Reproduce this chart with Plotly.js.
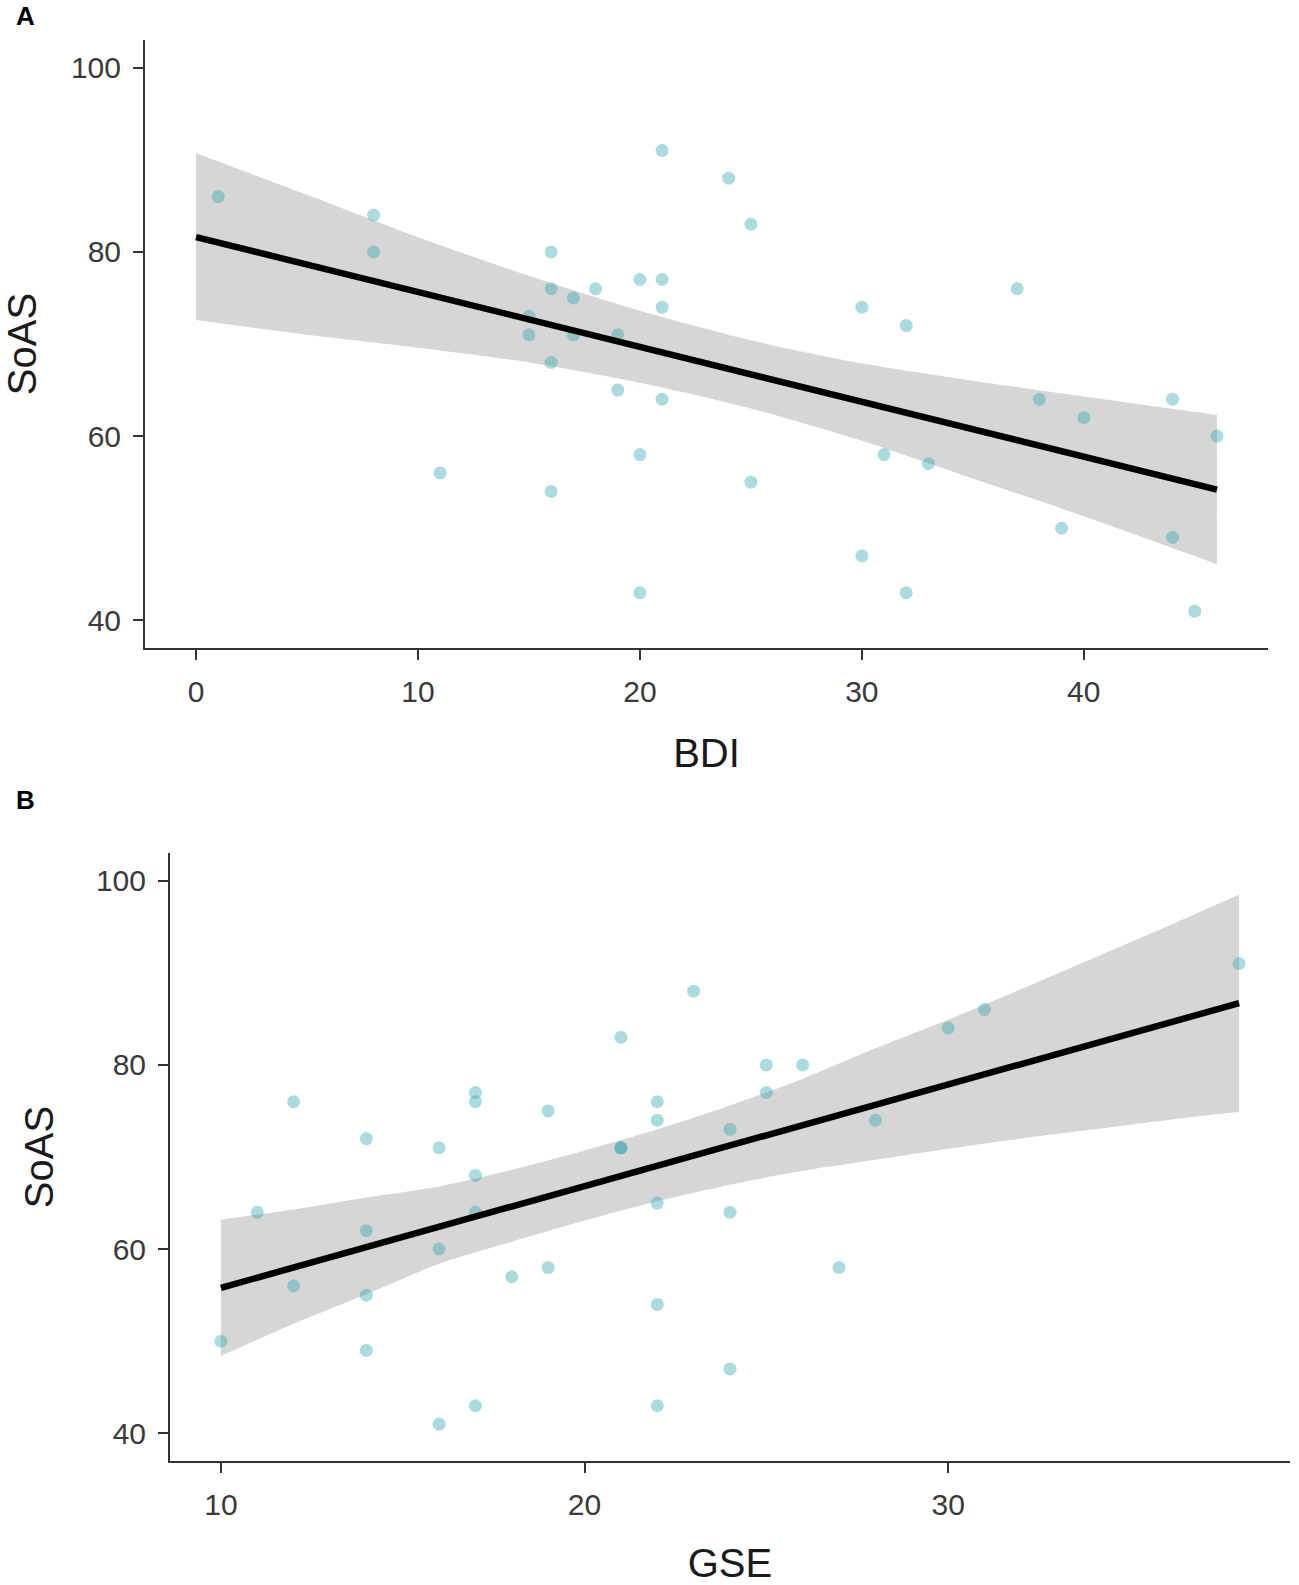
<!DOCTYPE html>
<html>
<head>
<meta charset="utf-8">
<script src="https://cdn.plot.ly/plotly-3.0.1.min.js"></script>
<style>
  html, body { margin: 0; padding: 0; background: #fff; }
  #chart { width: 1299px; height: 1585px; }
</style>
</head>
<body>
<div id="chart"></div>
<script>
// Panel A: SoAS vs BDI
var bdi    = [1, 8, 8, 11, 15, 15, 16, 16, 16, 16, 17, 17, 18, 19, 19, 20, 20, 20, 21, 21, 21, 21, 24, 25, 25, 30, 30, 31, 32, 32, 33, 37, 38, 39, 40, 44, 44, 45, 46];
var soasA  = [86, 84, 80, 56, 73, 71, 80, 76, 68, 54, 75, 71, 76, 71, 65, 77, 58, 43, 91, 77, 74, 64, 88, 83, 55, 74, 47, 58, 72, 43, 57, 76, 64, 50, 62, 64, 49, 41, 60];
// fitted line and confidence band
var fitAx  = [0, 46];
var fitAy  = [81.6, 54.2];
var bandAx = [0, 5, 10, 15, 20, 25, 30, 35, 40, 46];
var bandAhi = [90.7, 86.2, 81.6, 77.4, 73.6, 70.4, 67.9, 66.0, 64.3, 62.3];
var bandAlo = [72.6, 71.0, 69.6, 68.0, 65.8, 63.0, 59.5, 55.4, 51.3, 46.1];

// Panel B: SoAS vs GSE
var gse    = [10, 11, 12, 12, 14, 14, 14, 14, 16, 16, 16, 17, 17, 17, 17, 17, 18, 19, 19, 21, 21, 21, 22, 22, 22, 22, 22, 23, 24, 24, 24, 25, 25, 26, 27, 28, 30, 31, 38];
var soasB  = [50, 64, 76, 56, 72, 62, 55, 49, 71, 60, 41, 77, 76, 68, 64, 43, 57, 75, 58, 83, 71, 71, 76, 74, 65, 54, 43, 88, 73, 64, 47, 80, 77, 80, 58, 74, 84, 86, 91];
var fitBx  = [10, 38];
var fitBy  = [55.8, 86.7];
var bandBx = [10, 12, 14, 16, 18, 20, 22, 24, 26, 28, 30, 32, 34, 36, 38];
var bandBhi = [63.2, 64.3, 65.6, 66.8, 68.6, 70.7, 73.0, 75.6, 78.5, 81.8, 84.9, 88.2, 91.6, 95.0, 98.5];
var bandBlo = [48.4, 51.9, 55.1, 58.4, 60.8, 63.1, 65.2, 67.0, 68.5, 69.7, 70.9, 72.0, 73.0, 74.0, 74.9];

var yTicks = [40, 60, 80, 100];

// lower edge, then upper edge filled down to it
function band(xs, hi, lo, xa, ya) {
  var edge = {width: 0, color: 'rgba(0,0,0,0)', shape: 'spline', smoothing: 0.8};
  return [
    {x: xs, y: lo, xaxis: xa, yaxis: ya, type: 'scatter', mode: 'lines',
     line: edge, hoverinfo: 'skip', showlegend: false},
    {x: xs, y: hi, xaxis: xa, yaxis: ya, type: 'scatter', mode: 'lines',
     fill: 'tonexty', fillcolor: '#d6d6d6',
     line: edge, hoverinfo: 'skip', showlegend: false}
  ];
}
function pts(xs, ys, xa, ya) {
  return {
    x: xs, y: ys, xaxis: xa, yaxis: ya,
    type: 'scatter', mode: 'markers',
    marker: {size: 13, color: 'rgba(40,165,175,0.40)', line: {width: 0}},
    showlegend: false
  };
}
function fit(xs, ys, xa, ya) {
  return {
    x: xs, y: ys, xaxis: xa, yaxis: ya,
    type: 'scatter', mode: 'lines',
    line: {color: '#000', width: 6.5},
    showlegend: false
  };
}

var data = [].concat(
  band(bandAx, bandAhi, bandAlo, 'x', 'y'),
  [pts(bdi, soasA, 'x', 'y'), fit(fitAx, fitAy, 'x', 'y')],
  band(bandBx, bandBhi, bandBlo, 'x2', 'y2'),
  [pts(gse, soasB, 'x2', 'y2'), fit(fitBx, fitBy, 'x2', 'y2')]
);

var W = 1299, H = 1585;
function dx(a, b) { return [a / W, b / W]; }
function dy(top, bottom) { return [1 - bottom / H, 1 - top / H]; }

var tickFont = {family: 'Liberation Sans, Arial, sans-serif', size: 30, color: '#3a3a3a'};
var titleFont = {family: 'Liberation Sans, Arial, sans-serif', size: 40, color: '#1a1a1a'};

function axis(extra) {
  var a = {
    showgrid: false, zeroline: false,
    showline: true, linecolor: '#333', linewidth: 2,
    ticks: 'outside', ticklen: 10, tickwidth: 2, tickcolor: '#333',
    tickfont: tickFont, ticklabelstandoff: 6
  };
  for (var k in extra) a[k] = extra[k];
  return a;
}

var layout = {
  width: W, height: H,
  margin: {l: 0, r: 0, t: 0, b: 0},
  paper_bgcolor: '#fff', plot_bgcolor: '#fff',
  showlegend: false,
  xaxis: axis({domain: dx(145, 1268), range: [-2.3, 48.3], tickvals: [0, 10, 20, 30, 40],
    anchor: 'y', title: {text: 'BDI', font: titleFont, standoff: 32}}),
  yaxis: axis({domain: dy(40, 648), range: [37, 103], tickvals: yTicks,
    anchor: 'x', title: {text: 'SoAS', font: titleFont, standoff: 26}}),
  xaxis2: axis({domain: dx(170, 1290), range: [8.6, 39.4], tickvals: [10, 20, 30],
    anchor: 'y2', title: {text: 'GSE', font: titleFont, standoff: 32}}),
  yaxis2: axis({domain: dy(853, 1461), range: [37, 103], tickvals: yTicks,
    anchor: 'x2', title: {text: 'SoAS', font: titleFont, standoff: 30}}),
  annotations: [
    {text: '<b>A</b>', xref: 'paper', yref: 'paper', x: 14 / W, y: 1 - 16 / H,
     xanchor: 'left', yanchor: 'middle', showarrow: false,
     font: {family: 'Liberation Sans, Arial, sans-serif', size: 26, color: '#000'}},
    {text: '<b>B</b>', xref: 'paper', yref: 'paper', x: 14 / W, y: 1 - 800 / H,
     xanchor: 'left', yanchor: 'middle', showarrow: false,
     font: {family: 'Liberation Sans, Arial, sans-serif', size: 26, color: '#000'}}
  ]
};

Plotly.newPlot('chart', data, layout, {displayModeBar: false, staticPlot: true});
</script>
</body>
</html>
